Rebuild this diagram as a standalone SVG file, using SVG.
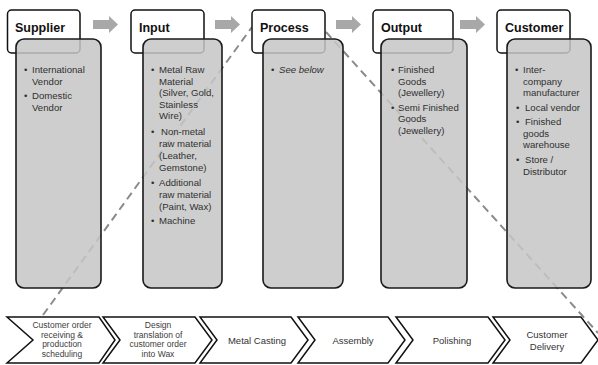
<svg xmlns="http://www.w3.org/2000/svg" width="598" height="365" viewBox="0 0 598 365">
<style>
.chev{fill:#fff;stroke:#111;stroke-width:1.5;stroke-linejoin:miter}
.hdr{fill:#fff;stroke:#111;stroke-width:1.5}
.body{fill:#c6c6c6;fill-opacity:0.85;stroke:#1a1a1a;stroke-width:1.6}
.arr{fill:#a8a8a8}
.dash{fill:none;stroke:#8a8a8a;stroke-width:2;stroke-dasharray:8,5}
.title{font-family:"Liberation Sans",Arial,sans-serif;font-weight:bold;font-size:12.5px;fill:#111}
.bt{font-family:"Liberation Sans",Arial,sans-serif;font-size:9.6px;fill:#303030}
.ct{font-family:"Liberation Sans",Arial,sans-serif;font-size:8.5px;fill:#404040;text-anchor:middle}
.ct2{font-family:"Liberation Sans",Arial,sans-serif;font-size:9.5px;fill:#333;text-anchor:middle}
</style>

<g id="steps">
<g id="step1"><path class="chev" d="M7,317 L99,317 L115,340 L99,363 L7,363 L33,340 Z"/>
<text class="ct" x="62" y="328">Customer order</text><text class="ct" x="62" y="337.5">receiving &amp;</text><text class="ct" x="62" y="347">production</text><text class="ct" x="62" y="356.5">scheduling</text></g>
<g id="step2"><path class="chev" d="M103,317 L195,317 L212,340 L195,363 L103,363 L120,340 Z"/>
<text class="ct" x="158" y="328">Design</text><text class="ct" x="158" y="337.5">translation of</text><text class="ct" x="158" y="347">customer order</text><text class="ct" x="158" y="356.5">into Wax</text></g>
<g id="step3"><path class="chev" d="M200,317 L291,317 L308,340 L291,363 L200,363 L217,340 Z"/>
<text class="ct2" x="257" y="343.5">Metal Casting</text></g>
<g id="step4"><path class="chev" d="M298,317 L388,317 L405,340 L388,363 L298,363 L315,340 Z"/>
<text class="ct2" x="353" y="343.5">Assembly</text></g>
<g id="step5"><path class="chev" d="M396,317 L488,317 L505,340 L488,363 L396,363 L413,340 Z"/>
<text class="ct2" x="452" y="343.5">Polishing</text></g>
<g id="step6"><path class="chev" d="M493,317 L581,317 L598,340 L581,363 L493,363 L510,340 Z"/>
<text class="ct2" x="547" y="337.5">Customer</text><text class="ct2" x="547" y="349.5">Delivery</text></g>
</g>

<g id="connectors">
<path class="dash" d="M43,315 L252,27"/>
<path class="dash" d="M326,32 L598,333"/>
<path class="arr" d="M93,20 L109,20 L109,16 L118,24.5 L109,33 L109,29 L93,29 Z"/>
<path class="arr" d="M215,20 L231,20 L231,16 L240,24.5 L231,33 L231,29 L215,29 Z"/>
<path class="arr" d="M336,20 L352,20 L352,16 L361,24.5 L352,33 L352,29 L336,29 Z"/>
<path class="arr" d="M460,20 L476,20 L476,16 L485,24.5 L476,33 L476,29 L460,29 Z"/>
</g>

<g id="supplier">
<rect class="hdr" x="7.5" y="10" width="72.5" height="43" rx="4"/>
<text class="title" x="15" y="32">Supplier</text>
<rect class="body" x="16" y="39" width="85" height="249" rx="8"/>
<text class="bt" x="24" y="73">•</text><text class="bt" x="32" y="73">International</text>
<text class="bt" x="32" y="84.5">Vendor</text>
<text class="bt" x="24" y="99">•</text><text class="bt" x="32" y="99">Domestic</text>
<text class="bt" x="32" y="110.5">Vendor</text>
</g>

<g id="input">
<rect class="hdr" x="131" y="10" width="73" height="43" rx="4"/>
<text class="title" x="139" y="32">Input</text>
<rect class="body" x="143" y="39" width="79" height="249" rx="8"/>
<text class="bt" x="151" y="73">•</text><text class="bt" x="159" y="73">Metal Raw</text>
<text class="bt" x="159" y="84.5">Material</text>
<text class="bt" x="159" y="96">(Silver, Gold,</text>
<text class="bt" x="159" y="107.5">Stainless</text>
<text class="bt" x="159" y="119">Wire)</text>
<text class="bt" x="151" y="135">•</text><text class="bt" x="161" y="135">Non-metal</text>
<text class="bt" x="159" y="147">raw material</text>
<text class="bt" x="159" y="159">(Leather,</text>
<text class="bt" x="159" y="171">Gemstone)</text>
<text class="bt" x="151" y="186">•</text><text class="bt" x="159" y="186">Additional</text>
<text class="bt" x="159" y="198">raw material</text>
<text class="bt" x="159" y="210">(Paint, Wax)</text>
<text class="bt" x="151" y="224">•</text><text class="bt" x="159" y="224">Machine</text>
</g>

<g id="process">
<rect class="hdr" x="252" y="10" width="73" height="43" rx="4"/>
<text class="title" x="260" y="32">Process</text>
<rect class="body" x="263" y="39" width="80" height="249" rx="8"/>
<text class="bt" x="271" y="73">•</text><text class="bt" x="279" y="73" font-style="italic">See below</text>
</g>

<g id="output">
<rect class="hdr" x="373" y="10" width="80" height="43" rx="4"/>
<text class="title" x="381" y="32">Output</text>
<rect class="body" x="381" y="39" width="86" height="249" rx="8"/>
<text class="bt" x="391" y="73">•</text><text class="bt" x="398" y="73">Finished</text>
<text class="bt" x="398" y="84.5">Goods</text>
<text class="bt" x="398" y="96">(Jewellery)</text>
<text class="bt" x="391" y="110.5">•</text><text class="bt" x="398" y="110.5">Semi Finished</text>
<text class="bt" x="398" y="122">Goods</text>
<text class="bt" x="398" y="133.5">(Jewellery)</text>
</g>

<g id="customer">
<rect class="hdr" x="497" y="10" width="73" height="43" rx="4"/>
<text class="title" x="505" y="32">Customer</text>
<rect class="body" x="507" y="39" width="84" height="249" rx="8"/>
<text class="bt" x="515" y="73">•</text><text class="bt" x="523" y="73">Inter-</text>
<text class="bt" x="523" y="84.5">company</text>
<text class="bt" x="523" y="96">manufacturer</text>
<text class="bt" x="516" y="110.5">•</text><text class="bt" x="525" y="110.5">Local vendor</text>
<text class="bt" x="516" y="125">•</text><text class="bt" x="525" y="125">Finished</text>
<text class="bt" x="523" y="136.5">goods</text>
<text class="bt" x="523" y="148">warehouse</text>
<text class="bt" x="516" y="163">•</text><text class="bt" x="525" y="163">Store /</text>
<text class="bt" x="523" y="174.5">Distributor</text>
</g>
</svg>
